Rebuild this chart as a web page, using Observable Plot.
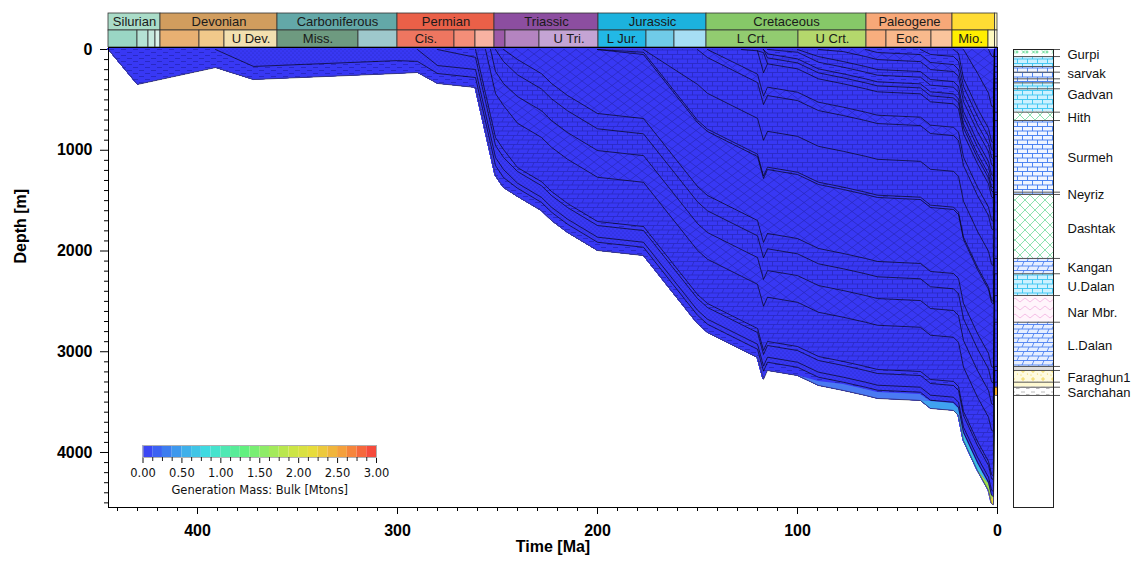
<!DOCTYPE html>
<html><head><meta charset="utf-8">
<script src="https://cdn.jsdelivr.net/npm/d3@7"></script>
<script src="https://cdn.jsdelivr.net/npm/@observablehq/plot@0.6"></script>
<style>
html,body{margin:0;padding:0;background:#fff;}
#wrap{position:relative;width:1136px;height:563px;overflow:hidden;background:#fff;}
#wrap > svg{position:absolute;left:0;top:0;}
</style></head>
<body>
<svg width="0" height="0" style="position:absolute;left:0;top:0">
<defs>
  <pattern id="p-brick" patternUnits="userSpaceOnUse" width="10" height="9">
    <rect width="10" height="9" fill="#3838f4"/>
    <path d="M0 0.5H10M0 5H10M2.5 0.5V5M7.5 5V9.5" stroke="#2626b8" stroke-width="0.7" fill="none"/>
  </pattern>
  <pattern id="p-slant" patternUnits="userSpaceOnUse" width="10" height="9">
    <rect width="10" height="9" fill="#3838f4"/>
    <path d="M0 0.5H10M0 5H10M4 0.5L2 5M9 5L7 9.5" stroke="#2626b8" stroke-width="0.7" fill="none"/>
  </pattern>
  <pattern id="p-diamond" patternUnits="userSpaceOnUse" width="12" height="9">
    <rect width="12" height="9" fill="#3838f4"/>
    <path d="M0 4.5L6 0L12 4.5L6 9Z" stroke="#2626b8" stroke-width="0.7" fill="none"/>
  </pattern>
  <pattern id="p-dash" patternUnits="userSpaceOnUse" width="12" height="6">
    <rect width="12" height="6" fill="#3838f4"/>
    <path d="M1 1.5H6M7 4.5H12" stroke="#2626b8" stroke-width="0.8" fill="none"/>
  </pattern>
  <pattern id="p-dot" patternUnits="userSpaceOnUse" width="4" height="4">
    <rect width="4" height="4" fill="#3838f4"/>
    <circle cx="1" cy="1" r="0.6" fill="#2626b8"/><circle cx="3" cy="3" r="0.6" fill="#2626b8"/>
  </pattern>

  <pattern id="c-greenx" patternUnits="userSpaceOnUse" width="10" height="7">
    <rect width="10" height="7" fill="#ffffff"/>
    <path d="M2 1.5L5 4.5M5 1.5L2 4.5M7 1.5V4.5M5.5 3H8.5" stroke="#3ccf78" stroke-width="0.8" fill="none"/>
  </pattern>
  <pattern id="c-cyanbrick" patternUnits="userSpaceOnUse" width="10" height="9">
    <rect width="10" height="9" fill="#cdf1ff"/>
    <path d="M0 0.5H10M0 5H10M2.5 0.5V5M7.5 5V9.5" stroke="#38c4f0" stroke-width="0.9" fill="none"/>
  </pattern>
  <pattern id="c-bluebrick" patternUnits="userSpaceOnUse" width="10" height="9">
    <rect width="10" height="9" fill="#f0f5ff"/>
    <path d="M0 0.5H10M0 5H10M2.5 0.5V5M7.5 5V9.5" stroke="#3c78f0" stroke-width="0.9" fill="none"/>
  </pattern>
  <pattern id="c-greenhatch" patternUnits="userSpaceOnUse" width="10" height="10">
    <rect width="10" height="10" fill="#ffffff"/>
    <path d="M0 5L5 0L10 5L5 10Z" stroke="#6fdc9c" stroke-width="0.8" fill="none"/>
  </pattern>
  <pattern id="c-blueslant" patternUnits="userSpaceOnUse" width="10" height="9">
    <rect width="10" height="9" fill="#e6eeff"/>
    <path d="M0 0.5H10M0 5H10M4 0.5L2 5M9 5L7 9.5" stroke="#4a7ef0" stroke-width="0.9" fill="none"/>
  </pattern>
  <pattern id="c-pinkhatch" patternUnits="userSpaceOnUse" width="10" height="8">
    <rect width="10" height="8" fill="#fff5fb"/>
    <path d="M0 6L5 2L10 6" stroke="#f2aee0" stroke-width="0.8" fill="none"/>
  </pattern>
  <pattern id="c-yellowdot" patternUnits="userSpaceOnUse" width="10" height="8">
    <rect width="10" height="8" fill="#fffbe0"/>
    <path d="M3 1V5M1 3H5" stroke="#f0d040" stroke-width="0.8" fill="none"/>
    <circle cx="7.5" cy="6" r="0.6" fill="#f0d040"/><circle cx="1" cy="7" r="0.6" fill="#f0d040"/>
  </pattern>
  <pattern id="c-graydash" patternUnits="userSpaceOnUse" width="10" height="6">
    <rect width="10" height="6" fill="#ffffff"/>
    <path d="M1 2H5M6 4.5H9.5" stroke="#a8a8a8" stroke-width="0.8" fill="none"/>
  </pattern>
</defs>
</svg>
<div id="wrap"></div>
<script>
const W = 1136, H = 563;

// ---------------- burial model: times (Ma) ----------------
const burialTimes = [444.5, 430, 391, 372, 300, 290, 280, 261, 256, 253.5,
                     251, 247, 240, 228, 223, 215, 200, 177, 150, 145,
                     128, 120, 117, 115, 100, 89.5, 77, 66, 60, 38.5,
                     33.5, 22, 19.5, 17, 10, 4.5, 3, 2, 1.5, 0];

// ---------------- thickness of each unit (m), youngest first ----------------
const z10 = [0,0,0,0,0,0,0,0,0,0];
const thkBakhtyari = [...z10, ...z10, ...z10, 0,0,0,0,0,0,62,76,0,0];
const thkAghaJari  = [...z10, ...z10, ...z10, 0,0,0,0,235,433,500,500,0,0];
const thkGachsaran = [...z10, ...z10, ...z10, 0,0,39,287,350,350,350,350,0,0];
const thkAsmari    = [...z10, ...z10, ...z10, 49,69,80,80,80,80,80,80,0,0];
const thkPabdeh    = [...z10, ...z10, 0,0,0,0,0,0,0,0,30,50, 80,80,80,80,80,80,80,80,0,0];
const thkGurpi     = [...z10, ...z10, 0,0,0,0,0,0,21,70,70,70, 70,70,70,70,70,70,70,70,70,70];
const thkIlam      = [...z10, ...z10, 0,0,0,0,0,70,99,99,99,99, 99,99,99,99,99,99,99,99,99,99];
const thkSarvakA   = [...z10, ...z10, 0,0,0,0,27,56,56,56,56,56, 56,56,56,56,56,56,56,56,56,56];
const thkSarvakB   = [...z10, ...z10, 0,0,0,43,66,66,66,66,66,66, 66,66,66,66,66,66,66,66,66,66];
const thkSarvakC   = [...z10, ...z10, 0,0,0,40,40,40,40,40,40,40, 40,40,40,40,40,40,40,40,40,40];
const thkKazhdumi  = [...z10, ...z10, 0,13,31,59,59,59,59,59,59,59, 59,59,59,59,59,59,59,59,59,59];
const thkErodedK   = [...z10, ...z10, 0,0,200,0,0,0,0,0,0,0, ...z10];
const thkGadvan    = [...z10, ...z10, 166,232,232,232,232,232,232,232,232,232, 232,232,232,232,232,232,232,232,232,232];
const thkHith      = [...z10, 0,0,0,0,0,0,0,0,0,80, 83,83,83,83,83,83,83,83,83,83, 83,83,83,83,83,83,83,83,83,83];
const thkSurmehU   = [...z10, 0,0,0,0,0,0,0,0,346,355, 355,355,355,355,355,355,355,355,355,355, 355,355,355,355,355,355,355,355,355,355];
const thkSurmehL   = [...z10, 0,0,0,0,0,0,0,27,356,356, 356,356,356,356,356,356,356,356,356,356, 356,356,356,356,356,356,356,356,356,356];
const thkNeyriz    = [...z10, 0,0,0,0,0,0,0,23,23,23, 23,23,23,23,23,23,23,23,23,23, 23,23,23,23,23,23,23,23,23,23];
const thkDashtak   = [...z10, 0,0,99,240,337,456,635,635,635,635, 635,635,635,635,635,635,635,635,635,635, 635,635,635,635,635,635,635,635,635,635];
const thkKangan    = [...z10, 0,119,152,152,152,152,152,152,152,152, 152,152,152,152,152,152,152,152,152,152, 152,152,152,152,152,152,152,152,152,152];
const thkUDalan    = [...z10, 219,219,216,216,216,216,216,216,216,216, 216,216,216,216,216,216,216,216,216,216, 216,216,216,216,216,216,216,216,216,216];
const thkNarMbr    = [0,0,0,0,0,0,0,0,0,218, 218,218,265,265,265,265,265,265,265,265, 265,265,265,265,265,265,265,265,265,265, 265,265,265,265,265,265,265,265,265,265];
const thkLDalan    = [0,0,0,0,0,0,0,0,437,437, 437,437,439,439,439,439,439,439,439,439, 439,439,439,439,439,439,439,439,439,439, 439,439,439,439,439,439,439,439,439,439];
const thkUnit16    = [0,0,0,0,0,0,0,78,78,78, 78,78,40,40,40,40,40,40,40,40, 40,40,40,40,40,40,40,40,40,40, 40,40,40,40,40,40,40,40,40,40];
const thkFaraghun  = [0,0,0,0,0,0,159,120,120,120, 120,120,116,116,116,116,116,116,116,116, 116,116,116,116,116,116,116,116,116,116, 116,116,116,116,116,116,116,116,116,116];
const thkUnit18    = [0,0,0,168,110,118,79,80,80,80, 80,80,50,50,50,50,50,50,50,50, 50,50,50,50,50,50,50,50,50,50, 50,50,50,50,50,50,50,50,50,50];
const thkSarchahan = [0,347,179,130,128,110,99,99,99,99, 99,99,82,82,82,82,82,82,82,82, 82,82,82,82,82,42,22,22,22,22, 12,12,12,12,12,12,2,0,0,0];
// generation-mass tinted parts of the source layer
const thkGen1 = [...z10, ...z10, 0,0,0,0,0,40,60,60,60,60, ...z10];
const thkGen2 = [...z10, ...z10, ...z10, 70,70,70,0,0,0,0,0,0,0];
const thkGen3 = [...z10, ...z10, ...z10, 0,0,0,70,70,0,0,0,0,0];
const thkGen4 = [...z10, ...z10, ...z10, 0,0,0,0,0,70,40,0,0,0];
const thkGen5 = [...z10, ...z10, ...z10, 0,0,0,0,0,0,40,82,0,0];
const thkGen6 = [...z10, ...z10, ...z10, 0,0,0,0,0,0,0,0,82,82];

const unitNames = ["Bakhtyari","Agha Jari","Gachsaran","Asmari","Pabdeh","Gurpi","Ilam","Sarvak A","Sarvak B","Sarvak C","Kazhdumi","Eroded K","Gadvan","Hith","Surmeh U","Surmeh L","Neyriz","Dashtak","Kangan","U.Dalan","Nar Mbr.","L.Dalan","Unit 16","Faraghun","Unit 18","Sarchahan","Gen 1","Gen 2","Gen 3","Gen 4","Gen 5","Gen 6"];
const unitThickness = [thkBakhtyari,thkAghaJari,thkGachsaran,thkAsmari,thkPabdeh,thkGurpi,thkIlam,thkSarvakA,thkSarvakB,thkSarvakC,thkKazhdumi,thkErodedK,thkGadvan,thkHith,thkSurmehU,thkSurmehL,thkNeyriz,thkDashtak,thkKangan,thkUDalan,thkNarMbr,thkLDalan,thkUnit16,thkFaraghun,thkUnit18,thkSarchahan,thkGen1,thkGen2,thkGen3,thkGen4,thkGen5,thkGen6];

// styles (kept apart from values)
const unitFill = ["url(#p-dot)","url(#p-diamond)","url(#p-brick)","url(#p-brick)","url(#p-dash)","url(#p-diamond)","url(#p-brick)","url(#p-brick)","url(#p-dash)","url(#p-slant)","url(#p-brick)","url(#p-brick)","url(#p-brick)","url(#p-diamond)","url(#p-brick)","url(#p-brick)","url(#p-dash)","url(#p-diamond)","url(#p-slant)","url(#p-brick)","url(#p-diamond)","url(#p-slant)","url(#p-dash)","url(#p-dot)","url(#p-dot)","url(#p-dash)","#4a7af2","#3fa2f0","#3cc0e6","#9ee050","#e8dc3a","#f0aa30"];
const unitLine = unitNames.map(n => n === "Gen 6" ? "#3a3a3a" : (n.startsWith("Gen") || n === "Sarchahan") ? "none" : "#000");

// ---------------- geological time scale ----------------
const periodNames = ["Silurian","Devonian","Carboniferous","Permian","Triassic","Jurassic","Cretaceous","Paleogene","",""];
const periodStart = [444.5, 418.5, 360, 300, 251.5, 199.5, 145.5, 65.5, 22.5, 1.2];
const periodEnd   = [418.5, 360, 300, 251.5, 199.5, 145.5, 65.5, 22.5, 1.2, 0];
const periodColors = ["#aadcc8","#d19d5e","#63a8a8","#ea6048","#8c4ea0","#1cb2de","#86c868","#f7a878","#ffdc34","#fff6b0"];

const epochNames = ["","","","","","","U Dev.","Miss.","","Cis.","","","","","U Tri.","L Jur.","","","L Crt.","U Crt.","","Eoc.","","Mio.","",""];
const epochStart = [444.5,430,424.5,421,418.5,399,386.5,360,319.5,300,271.5,261,251.5,246,229,199.5,175.5,161.5,145.5,99.5,65.5,55.5,33,22.5,4.5,1.2];
const epochEnd   = [430,424.5,421,418.5,399,386.5,360,319.5,300,271.5,261,251.5,246,229,199.5,175.5,161.5,145.5,99.5,65.5,55.5,33,22.5,4.5,1.2,0];
const epochColors = ["#9ad6c4","#b4e2d4","#c6eadf","#daf2ea","#e8b072","#f1c98a","#f2e0b0","#6e9a80","#9ec8cc","#ee7660","#f48e78","#f8b2a2","#9c5aa8","#b484c0","#c4a4d4","#22b8e6","#70cbe8","#a6def4","#92cc70","#b4d86c","#f8ae7e","#f9b98c","#fac49c","#ffee00","#fffac0","#fff9d8"];

// ---------------- present-day stratigraphic column ----------------
const colTop  = [0,70,169,225,291,331,390,622,705,1416,1439,2074,2226,2442,2707,3146,3186,3302,3352];
const colBase = [70,169,225,291,331,390,622,705,1416,1439,2074,2226,2442,2707,3146,3186,3302,3352,3434];
const colPattern = ["url(#c-greenx)","url(#c-cyanbrick)","url(#c-bluebrick)","url(#c-bluebrick)","url(#c-bluebrick)","url(#c-cyanbrick)","url(#c-cyanbrick)","url(#c-greenhatch)","url(#c-bluebrick)","url(#c-bluebrick)","url(#c-greenhatch)","url(#c-blueslant)","url(#c-cyanbrick)","url(#c-pinkhatch)","url(#c-blueslant)","#dcdcdc","url(#c-yellowdot)","#fffad2","url(#c-graydash)"];
const colLabelNames  = ["Gurpi","sarvak","Gadvan","Hith","Surmeh","Neyriz","Dashtak","Kangan","U.Dalan","Nar Mbr.","L.Dalan","Faraghun1","Sarchahan"];
const colLabelDepths = [50, 238, 447, 675, 1072, 1439, 1777, 2164, 2352, 2610, 2938, 3256, 3404];

// ---------------- axes / legend ticks ----------------
const xMajor = [0, 100, 200, 300, 400];
const xMinor = d3.range(10, 441, 10).filter(d => d % 100 !== 0);
const yMajor = [0, 1000, 2000, 3000, 4000];
const yMinor = d3.range(100, 4501, 100).filter(d => d % 1000 !== 0);
const legendTicks = [0, 0.5, 1, 1.5, 2, 2.5, 3];
const legendMinor = d3.range(0.125, 3, 0.125).filter(d => d % 0.5 !== 0);
const legendSwatches = d3.range(0, 3, 0.125);
const rampStops  = [0, 0.5, 0.85, 1.3, 1.9, 2.2, 2.6, 3];
const rampColors = ["#3a3af5","#3fa5ec","#40e0e0","#60f080","#c8e646","#e8dc3c","#f59a3c","#f53c3c"];

// ---------------- build tables ----------------
const rows = [];
const lineRows = [];
unitNames.forEach((u, k) => {
  const h = unitThickness[k];
  const nz = h.map((v, i) => v > 0 ? i : -1).filter(i => i >= 0);
  const a = nz[0] - 1, b = nz[nz.length - 1] + 1;
  h.forEach((v, i) => {
    const r = {unit: u, t: burialTimes[i], h: v, fill: unitFill[k], line: unitLine[k]};
    rows.push(r);
    if (u.startsWith("Gen") || (i >= a && i <= b)) lineRows.push(r);
  });
});
const periods = periodNames.map((n, i) => ({name: n, start: periodStart[i], end: periodEnd[i], color: periodColors[i], row: "P"}));
const epochs = epochNames.map((n, i) => ({name: n, start: epochStart[i], end: epochEnd[i], color: epochColors[i], row: "E"}));
const colUnits = colTop.map((t, i) => ({top: t, base: colBase[i], fill: colPattern[i]}));
const colBounds = Array.from(new Set([...colTop, ...colBase]));
const colLabels = colLabelNames.map((n, i) => ({name: n, d: colLabelDepths[i]}));

const FONT = "'Liberation Sans', Arial, sans-serif";
const wrap = document.getElementById("wrap");

// ---------------- main burial plot ----------------
const main = Plot.plot({
  width: W, height: H,
  marginLeft: 108, marginRight: 139, marginTop: 47, marginBottom: 56,
  style: `background: transparent; font-family: ${FONT}; font-size: 16px; font-weight: bold; color: #000;`,
  x: {domain: [0, 444.5], reverse: true, ticks: xMajor, tickFormat: "d", tickSize: 7, tickPadding: 10, label: null},
  y: {domain: [-20, 4546], reverse: true, ticks: yMajor, tickFormat: "d", tickSize: 8, tickPadding: 8, label: null},
  color: {type: "identity"},
  marks: [
    Plot.areaY(rows, {x: "t", y: "h", z: "unit", fill: "#3838f4", stroke: "#3838f4", strokeWidth: 0.8}),
    Plot.areaY(rows, {x: "t", y: "h", z: "unit", fill: "fill"}),
    Plot.lineY(lineRows, Plot.stackY2({x: "t", y: "h", z: "unit", stroke: "line", strokeWidth: 0.85, strokeOpacity: 0.75})),
    Plot.frame({stroke: "#000", strokeWidth: 1}),
    Plot.ruleY(yMinor, {y: d => d, x1: 444.5, x2: 444.5, insetLeft: -4, stroke: "#000"}),
    Plot.ruleX(xMinor, {x: d => d, y1: 4546, y2: 4546, insetBottom: -4, stroke: "#000"}),
    Plot.text(["Depth [m]"], {text: d => d, frameAnchor: "left", dx: -88, dy: -14, rotate: -90, fontSize: 16, fontWeight: "bold"}),
    Plot.text(["Time [Ma]"], {text: d => d, frameAnchor: "bottom", dy: 44, fontSize: 16, fontWeight: "bold"})
  ]
});
wrap.appendChild(main);

// ---------------- time-scale header ----------------
const header = Plot.plot({
  width: W, height: 47,
  marginLeft: 108, marginRight: 139, marginTop: 12, marginBottom: 0,
  style: `background: transparent; font-family: ${FONT}; font-size: 13px;`,
  x: {domain: [0, 444.5], reverse: true, axis: null},
  y: {domain: ["P", "E"], axis: null, padding: 0},
  color: {type: "identity"},
  marks: [
    Plot.barX(periods, {x1: "start", x2: "end", y: "row", fill: "color", stroke: "#333", strokeWidth: 0.8}),
    Plot.barX(epochs, {x1: "start", x2: "end", y: "row", fill: "color", stroke: "#333", strokeWidth: 0.8}),
    Plot.text(periods.filter(d => d.name), {x: d => (d.start + d.end) / 2, y: "row", text: "name", fill: "#1a1a1a"}),
    Plot.text(epochs.filter(d => d.name), {x: d => (d.start + d.end) / 2, y: "row", text: "name", fill: "#1a1a1a"})
  ]
});
wrap.appendChild(header);

// ---------------- present-day column ----------------
const column = Plot.plot({
  width: W, height: H,
  marginLeft: 1013, marginRight: 83, marginTop: 49, marginBottom: 56,
  style: `background: transparent; font-family: ${FONT}; font-size: 13px;`,
  x: {domain: [0, 1], axis: null},
  y: {domain: [0, 4546], reverse: true, axis: null},
  color: {type: "identity"},
  marks: [
    Plot.rect(colUnits, {x1: 0, x2: 1, y1: "top", y2: "base", fill: "fill"}),
    Plot.ruleY(colBounds, {y: d => d, x1: 0, x2: 1, insetRight: -7, stroke: "#555", strokeWidth: 1}),
    Plot.frame({stroke: "#222", strokeWidth: 1}),
    Plot.text(colLabels, {x: 1, y: "d", text: "name", textAnchor: "start", dx: 14, fill: "#111"})
  ]
});
wrap.appendChild(column);

// ---------------- colour legend ----------------
const legend = Plot.plot({
  width: W, height: H,
  marginLeft: 142.5, marginRight: 760, marginTop: 445, marginBottom: 106,
  style: "background: transparent; font-family: 'DejaVu Sans', Verdana, sans-serif; font-size: 11.5px; color: #111;",
  x: {domain: [0, 3], ticks: legendTicks, tickFormat: ".2f", tickSize: 6, tickPadding: 5, label: null},
  y: {domain: [0, 1], axis: null},
  color: {type: "linear", domain: rampStops, range: rampColors, interpolate: "rgb"},
  marks: [
    Plot.rect(legendSwatches, {x1: d => d, x2: d => d + 0.125, y1: 0, y2: 1, fill: d => d + 0.0625}),
    Plot.frame({stroke: "#b0b0b0"}),
    Plot.ruleX(legendMinor, {x: d => d, y1: 0, y2: 0, insetBottom: -4, stroke: "#222"}),
    Plot.text(["Generation Mass: Bulk [Mtons]"], {text: d => d, frameAnchor: "bottom", dy: 36})
  ]
});
wrap.appendChild(legend);
</script>
</body></html>
